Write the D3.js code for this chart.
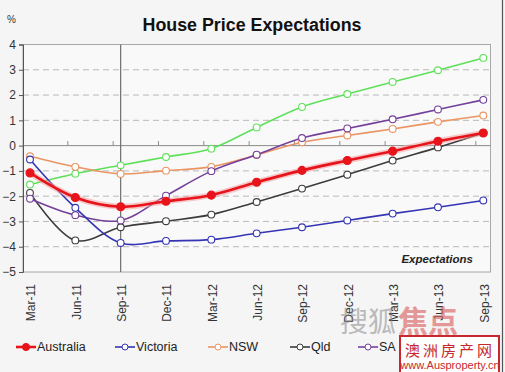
<!DOCTYPE html>
<html>
<head>
<meta charset="utf-8">
<script src="https://cdn.jsdelivr.net/npm/d3@7"></script>
<style>
  body { margin: 0; background: #f5f5f5; }
  svg { display: block; font-family: "Liberation Sans", Arial, sans-serif; }
</style>
</head>
<body>
<svg id="chart" width="505" height="372"></svg>
<script>
const months = ["Mar-11", "Jun-11", "Sep-11", "Dec-11", "Mar-12", "Jun-12",
                "Sep-12", "Dec-12", "Mar-13", "Jun-13", "Sep-13"];
const yTicks = [-5, -4, -3, -2, -1, 0, 1, 2, 3, 4];
const gridVals = [-4, -3, -2, -1, 1, 2, 3];

const australia = [-1.08, -2.05, -2.42, -2.2, -1.96, -1.45, -0.98, -0.59, -0.22, 0.17, 0.5];
const victoria = [-0.55, -2.46, -3.85, -3.77, -3.72, -3.47, -3.23, -2.96, -2.69, -2.44, -2.17];
const nsw = [-0.42, -0.84, -1.12, -0.99, -0.84, -0.37, 0.13, 0.4, 0.66, 0.94, 1.19];
const qld = [-1.87, -3.75, -3.23, -2.99, -2.73, -2.23, -1.7, -1.15, -0.59, -0.07, 0.5];
const sa = [-2.1, -2.75, -2.96, -1.98, -1.01, -0.36, 0.3, 0.68, 1.04, 1.43, 1.81];
const wa = [-1.54, -1.11, -0.78, -0.45, -0.12, 0.72, 1.53, 2.04, 2.52, 2.98, 3.47];

const series = [
  { name: "WA", values: wa, color: "#5fe05a" },
  { name: "NSW", values: nsw, color: "#ea9563" },
  { name: "Qld", values: qld, color: "#3c3c3c" },
  { name: "SA", values: sa, color: "#74409a" },
  { name: "Victoria", values: victoria, color: "#3434b4" },
  { name: "Australia", values: australia, color: "#e8141b", filled: true }
];
// WA's legend entry sits under the stamp in the original, so only these show
const legendOrder = ["Australia", "Victoria", "NSW", "Qld", "SA"];
const legendX = [16, 115, 208, 290, 358];

const svg = d3.select("#chart");

const x = d3.scalePoint().domain(months).range([30, 483.3]);
const y = d3.scaleLinear().domain([-5, 4]).range([272, 44.5]);
const plotLeft = 23, plotRight = 490.5;

// plot background + frame
svg.append("rect")
  .attr("x", plotLeft).attr("y", y(4))
  .attr("width", plotRight - plotLeft).attr("height", y(-5) - y(4))
  .attr("fill", "#f9f9f9").attr("stroke", "#a8a8a8").attr("stroke-width", 1);

// right edge of the image
svg.append("line").attr("x1", 502.5).attr("x2", 502.5).attr("y1", 0).attr("y2", 372)
  .attr("stroke", "#555").attr("stroke-width", 1.2);

svg.selectAll(".grid").data(gridVals).enter().append("line")
  .attr("x1", plotLeft).attr("x2", plotRight)
  .attr("y1", d => y(d)).attr("y2", d => y(d))
  .attr("stroke", "#b9b9b9").attr("stroke-dasharray", "6,4");

// zero line with ticks
svg.append("line").attr("x1", plotLeft).attr("x2", plotRight)
  .attr("y1", y(0)).attr("y2", y(0)).attr("stroke", "#8a8a8a");
svg.selectAll(".xtick").data(months.slice(1)).enter().append("line")
  .attr("x1", d => x(d) - 7.5).attr("x2", d => x(d) - 7.5)
  .attr("y1", y(0)).attr("y2", y(0) - 4.5).attr("stroke", "#8a8a8a");

// Sep-11 marker line
svg.append("line").attr("x1", x("Sep-11")).attr("x2", x("Sep-11"))
  .attr("y1", y(4)).attr("y2", y(-5)).attr("stroke", "#6e6e6e").attr("stroke-width", 1.2);

// y axis
const yAxis = svg.append("g").attr("transform", `translate(${plotLeft},0)`)
  .call(d3.axisLeft(y).tickValues(yTicks).tickSize(4).tickFormat(d3.format("d")));
yAxis.select(".domain").attr("stroke", "#555");
yAxis.selectAll(".tick line").attr("stroke", "#555");
yAxis.selectAll(".tick text").attr("font-size", 12).attr("fill", "#333")
  .attr("font-family", "Liberation Sans, Arial, sans-serif").attr("x", -7);

// x labels
svg.selectAll(".xlab").data(months).enter().append("text")
  .attr("transform", d => `translate(${x(d) + 1},284) rotate(-90)`)
  .attr("text-anchor", "end").attr("dy", "0.35em")
  .attr("font-size", 12).attr("fill", "#333").text(d => d);

// lines
const line = d3.line().x((d, i) => x(months[i])).y(d => y(d)).curve(d3.curveCatmullRom.alpha(0.5));

series.forEach(s => {
  if (s.filled) {
    svg.append("path").attr("d", line(s.values)).attr("fill", "none")
      .attr("stroke", "#f4a0a0").attr("stroke-width", 6).attr("opacity", 0.55);
  }
  svg.append("path").attr("d", line(s.values)).attr("fill", "none")
    .attr("stroke", s.color).attr("stroke-width", s.filled ? 2.6 : 1.6);
  svg.selectAll(null).data(s.values).enter().append("circle")
    .attr("cx", (d, i) => x(months[i])).attr("cy", d => y(d))
    .attr("r", s.filled ? 4 : 3.4)
    .attr("fill", s.filled ? s.color : "#fff")
    .attr("stroke", s.color).attr("stroke-width", 1.1);
});

svg.append("text").attr("x", 473).attr("y", 263).attr("text-anchor", "end")
  .attr("font-size", 11.5).attr("font-weight", "bold").attr("font-style", "italic")
  .attr("fill", "#222").text("Expectations");

// title
svg.append("text").attr("x", 142.5).attr("y", 30.5)
  .attr("font-size", 18).attr("font-weight", "bold").attr("fill", "#111")
  .attr("textLength", 219).attr("lengthAdjust", "spacingAndGlyphs")
  .text("House Price Expectations");
svg.append("text").attr("x", 7).attr("y", 23).attr("font-size", 10).attr("fill", "#333").text("%");

// watermark text
svg.append("text").attr("x", 340).attr("y", 332).attr("font-size", 28)
  .attr("font-family", "Noto Sans CJK SC").attr("fill", "#8a8a8a").attr("opacity", 0.55)
  .text("搜狐");
svg.append("text").attr("x", 398).attr("y", 332).attr("font-size", 30).attr("font-weight", "bold")
  .attr("font-family", "Noto Sans CJK SC").attr("fill", "#d85a5a").attr("opacity", 0.6)
  .text("焦点");

// legend
const lg = svg.append("g");
legendOrder.forEach((name, k) => {
  const s = series.find(d => d.name === name);
  const g = lg.append("g").attr("transform", `translate(${legendX[k]},347)`);
  g.append("line").attr("x1", 0).attr("x2", 20).attr("stroke", s.color)
    .attr("stroke-width", s.filled ? 2.6 : 1.6);
  g.append("circle").attr("cx", 10).attr("r", s.filled ? 3.6 : 3)
    .attr("fill", s.filled ? s.color : "#fff").attr("stroke", s.color);
  g.append("text").attr("x", 21).attr("dy", "0.35em").attr("font-size", 12.5)
    .attr("fill", "#222").text(name);
});

// stamp
const st = svg.append("g");
st.append("rect").attr("x", 400).attr("y", 336).attr("width", 99).attr("height", 38)
  .attr("fill", "#fff").attr("stroke", "#c8282d").attr("stroke-width", 2);
st.append("text").attr("x", 450).attr("y", 356).attr("text-anchor", "middle")
  .attr("font-family", "Noto Sans CJK SC").attr("font-size", 15).attr("fill", "#c8282d")
  .attr("letter-spacing", 3).text("澳洲房产网");
st.append("text").attr("x", 450).attr("y", 369).attr("text-anchor", "middle")
  .attr("font-size", 11).attr("fill", "#c8282d").text("www.Ausproperty.cn");
</script>
</body>
</html>
